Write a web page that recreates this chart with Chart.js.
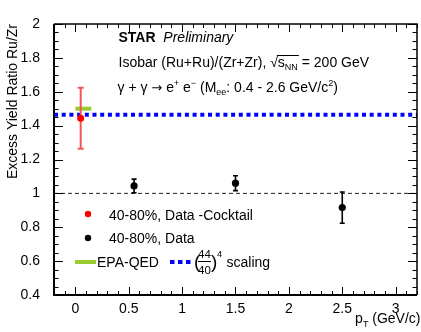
<!DOCTYPE html>
<html><head><meta charset="utf-8">
<script src="https://cdn.jsdelivr.net/npm/chart.js@4.4.1/dist/chart.umd.min.js"></script>
<style>html,body{margin:0;padding:0;background:#fff;}</style>
</head><body>
<canvas id="c" width="421" height="332"></canvas>
<script>
// ---- data ----
const xTickValues = [0, 0.5, 1, 1.5, 2, 2.5, 3];
const xTickLabels = ['0', '0.5', '1', '1.5', '2', '2.5', '3'];
const yTickValues = [0.4, 0.6, 0.8, 1, 1.2, 1.4, 1.6, 1.8, 2];
const yTickLabels = ['0.4', '0.6', '0.8', '1', '1.2', '1.4', '1.6', '1.8', '2'];

const cocktailPt = [0.05];
const cocktailRatio = [1.443];
const cocktailErr = [0.18];

const dataPt = [0.55, 1.5, 2.5];
const dataRatio = [1.044, 1.06, 0.916];
const dataErr = [0.04, 0.044, 0.092];

const epaPt = [0, 0.15];
const epaRatio = [1.5, 1.5];

const scalingPt = [-0.2, 3.2];
const scalingRatio = [1.4641, 1.4641];

const unityPt = [-0.2, 3.2];
const unityRatio = [1, 1];

const FONT = "'Liberation Sans', Arial, Helvetica, sans-serif";
const pts = (xs, ys) => xs.map((x, i) => ({x: x, y: ys[i]}));

function drawErr(chart, xs, ys, es, color, width, cap) {
  const ctx = chart.ctx, sx = chart.scales.x, sy = chart.scales.y;
  ctx.save();
  ctx.strokeStyle = color; ctx.lineWidth = width; ctx.lineCap = 'butt';
  xs.forEach((x, i) => {
    const px = sx.getPixelForValue(x);
    const top = sy.getPixelForValue(ys[i] + es[i]);
    const bot = sy.getPixelForValue(ys[i] - es[i]);
    ctx.beginPath();
    ctx.moveTo(px, top); ctx.lineTo(px, bot);
    ctx.moveTo(px - cap, top); ctx.lineTo(px + cap, top);
    ctx.moveTo(px - cap, bot); ctx.lineTo(px + cap, bot);
    ctx.stroke();
  });
  ctx.restore();
}

function drawRich(ctx, x, y, segs, measureOnly) {
  let cx = x;
  for (const s of segs) {
    const size = s.size || 14;
    ctx.font = (s.style || '') + ' ' + size + 'px ' + (s.font || FONT);
    const w = ctx.measureText(s.t).width;
    if (!measureOnly) ctx.fillText(s.t, cx, y + (s.dy || 0));
    cx += w;
  }
  return cx - x;
}

const errPlugin = {
  id: 'errbars',
  beforeDatasetDraw(chart, args) {
    if (args.index === 0) drawErr(chart, cocktailPt, cocktailRatio, cocktailErr, '#f25555', 2, 3);
    if (args.index === 1) drawErr(chart, dataPt, dataRatio, dataErr, '#000', 1.6, 2.5);
  }
};

const framePlugin = {
  id: 'frame',
  afterDatasetsDraw(chart) {
    const ctx = chart.ctx, a = chart.chartArea, sx = chart.scales.x, sy = chart.scales.y;
    ctx.save();
    ctx.strokeStyle = '#000';
    ctx.lineWidth = 1;
    ctx.beginPath();
    for (let k = -2; k <= 32; k++) {
      const px = Math.round(sx.getPixelForValue(k / 10)) + 0.5;
      const len = (k % 5 === 0) ? 8 : 4;
      ctx.moveTo(px, a.bottom); ctx.lineTo(px, a.bottom - len);
      ctx.moveTo(px, a.top); ctx.lineTo(px, a.top + len);
    }
    for (let k = 8; k <= 40; k++) {
      const py = Math.round(sy.getPixelForValue(k / 20)) + 0.5;
      const len = (k % 4 === 0) ? 9 : 4.5;
      ctx.moveTo(a.left, py); ctx.lineTo(a.left + len, py);
      ctx.moveTo(a.right, py); ctx.lineTo(a.right - len, py);
    }
    ctx.stroke();
    ctx.lineWidth = 1.5;
    ctx.beginPath();
    ctx.moveTo(a.left, a.top); ctx.lineTo(a.right, a.top); ctx.lineTo(a.right, a.bottom);
    ctx.stroke();
    ctx.lineWidth = 2;
    ctx.beginPath();
    ctx.moveTo(a.left, a.top); ctx.lineTo(a.left, a.bottom); ctx.lineTo(a.right, a.bottom);
    ctx.stroke();
    ctx.restore();
  }
};

const textPlugin = {
  id: 'texts',
  afterDraw(chart) {
    const ctx = chart.ctx;
    ctx.save();
    ctx.fillStyle = '#000';
    ctx.textBaseline = 'alphabetic';
    ctx.textAlign = 'left';
    // header
    drawRich(ctx, 118.5, 41.5, [{t: 'STAR', style: 'bold'}, {t: '  '}, {t: 'Preliminary', style: 'italic'}]);
    // line 2
    let x = 118.5;
    x += drawRich(ctx, x, 66.5, [{t: 'Isobar (Ru+Ru)/(Zr+Zr), '}]);
    const wSq = drawRich(ctx, x, 66.5, [{t: '\u221A'}]);
    const ox0 = x + wSq - 1;
    x += wSq;
    const wS = drawRich(ctx, x, 66.5, [{t: 's'}, {t: 'NN', size: 9, dy: 3.5}]);
    ctx.strokeStyle = '#000'; ctx.lineWidth = 1;
    ctx.beginPath(); ctx.moveTo(ox0, 55.5); ctx.lineTo(x + wS + 1, 55.5); ctx.stroke();
    x += wS;
    drawRich(ctx, x, 66.5, [{t: ' = 200 GeV'}]);
    // line 3
    drawRich(ctx, 117.5, 91.5, [
      {t: '\u03B3 + \u03B3 '}, {t: '\u2192', font: "'DejaVu Sans', sans-serif", size: 13}, {t: ' e'},
      {t: '+', size: 9, dy: -5.5}, {t: ' e'}, {t: '\u2212', size: 9, dy: -5.5},
      {t: ' (M'}, {t: 'ee', size: 9, dy: 3.5}, {t: ': 0.4 - 2.6 GeV/c'}, {t: '2', size: 9, dy: -6}, {t: ')'}
    ]);
    // legend
    ctx.fillStyle = '#ff0000';
    ctx.beginPath(); ctx.arc(88, 214, 3.2, 0, Math.PI * 2); ctx.fill();
    ctx.fillStyle = '#000';
    ctx.beginPath(); ctx.arc(88, 238, 3.2, 0, Math.PI * 2); ctx.fill();
    drawRich(ctx, 109, 219.5, [{t: '40-80%, Data -Cocktail'}]);
    drawRich(ctx, 109, 243, [{t: '40-80%, Data'}]);
    ctx.strokeStyle = '#99cc33'; ctx.lineWidth = 4;
    ctx.beginPath(); ctx.moveTo(75, 262); ctx.lineTo(96, 262); ctx.stroke();
    ctx.fillStyle = '#000';
    drawRich(ctx, 97, 266.5, [{t: 'EPA-QED'}]);
    ctx.strokeStyle = '#0000ff'; ctx.lineWidth = 4; ctx.setLineDash([4.5, 3.5]);
    ctx.beginPath(); ctx.moveTo(170, 262); ctx.lineTo(193, 262); ctx.stroke();
    ctx.setLineDash([]);
    ctx.fillStyle = '#000';
    drawRich(ctx, 194, 268, [{t: '(', size: 19}]);
    ctx.textAlign = 'center';
    ctx.font = '11.5px ' + FONT;
    ctx.fillText('44', 204.5, 257.5);
    ctx.fillText('40', 204.5, 273.5);
    ctx.strokeStyle = '#000'; ctx.lineWidth = 1;
    ctx.beginPath(); ctx.moveTo(198, 261.5); ctx.lineTo(211, 261.5); ctx.stroke();
    ctx.textAlign = 'left';
    drawRich(ctx, 211, 268, [{t: ')', size: 19}]);
    drawRich(ctx, 217, 257, [{t: '4', size: 9}]);
    drawRich(ctx, 226.5, 266.5, [{t: 'scaling'}]);
    // x title
    const segs = [{t: 'p'}, {t: 'T', size: 9, dy: 4}, {t: ' (GeV/c)'}];
    const w = drawRich(ctx, 0, 0, segs, true);
    drawRich(ctx, 420.5 - w, 322.5, segs);
    ctx.restore();
  }
};

new Chart(document.getElementById('c'), {
  type: 'scatter',
  data: {
    datasets: [
      {label: '40-80%, Data -Cocktail', data: pts(cocktailPt, cocktailRatio), pointRadius: 3.5,
       pointBackgroundColor: '#ff0000', pointBorderWidth: 0, pointBorderColor: '#ff0000', showLine: false},
      {label: '40-80%, Data', data: pts(dataPt, dataRatio), pointRadius: 3.6,
       pointBackgroundColor: '#000', pointBorderWidth: 0, pointBorderColor: '#000', showLine: false},
      {label: 'EPA-QED', data: pts(epaPt, epaRatio), showLine: true, borderColor: '#99cc33',
       borderWidth: 4, pointRadius: 0, fill: false, borderCapStyle: 'butt'},
      {label: '(44/40)^4 scaling', data: pts(scalingPt, scalingRatio), showLine: true, borderColor: '#0000ff',
       borderWidth: 4, borderDash: [4, 3.7], pointRadius: 0, fill: false, borderCapStyle: 'butt'},
      {label: 'unity', data: pts(unityPt, unityRatio), showLine: true, borderColor: '#222',
       borderWidth: 1, borderDash: [4, 3], pointRadius: 0, fill: false}
    ]
  },
  options: {
    responsive: false, animation: false, devicePixelRatio: 1,
    layout: {padding: {left: 0, top: 24, right: 1, bottom: 0}},
    plugins: {legend: {display: false}, tooltip: {enabled: false}},
    scales: {
      x: {
        type: 'linear', min: -0.2, max: 3.2,
        grid: {display: false}, border: {display: false},
        afterBuildTicks: s => { s.ticks = xTickValues.map(v => ({value: v})); },
        afterFit: s => { s.height = 37; },
        ticks: {autoSkip: false, maxRotation: 0, minRotation: 0, padding: -2, color: '#000',
          font: {family: FONT, size: 14},
          callback: v => xTickLabels[xTickValues.indexOf(v)]}
      },
      y: {
        type: 'linear', min: 0.4, max: 2,
        grid: {display: false}, border: {display: false},
        afterBuildTicks: s => { s.ticks = yTickValues.map(v => ({value: v})); },
        afterFit: s => { s.width = 54; },
        ticks: {autoSkip: false, padding: 6, color: '#000', font: {family: FONT, size: 14},
          callback: v => yTickLabels[yTickValues.indexOf(v)]},
        title: {display: true, text: 'Excess Yield Ratio Ru/Zr', align: 'end', color: '#000',
          font: {family: FONT, size: 14}, padding: {top: 5, bottom: 0}}
      }
    }
  },
  plugins: [errPlugin, framePlugin, textPlugin]
});
</script>
</body></html>
